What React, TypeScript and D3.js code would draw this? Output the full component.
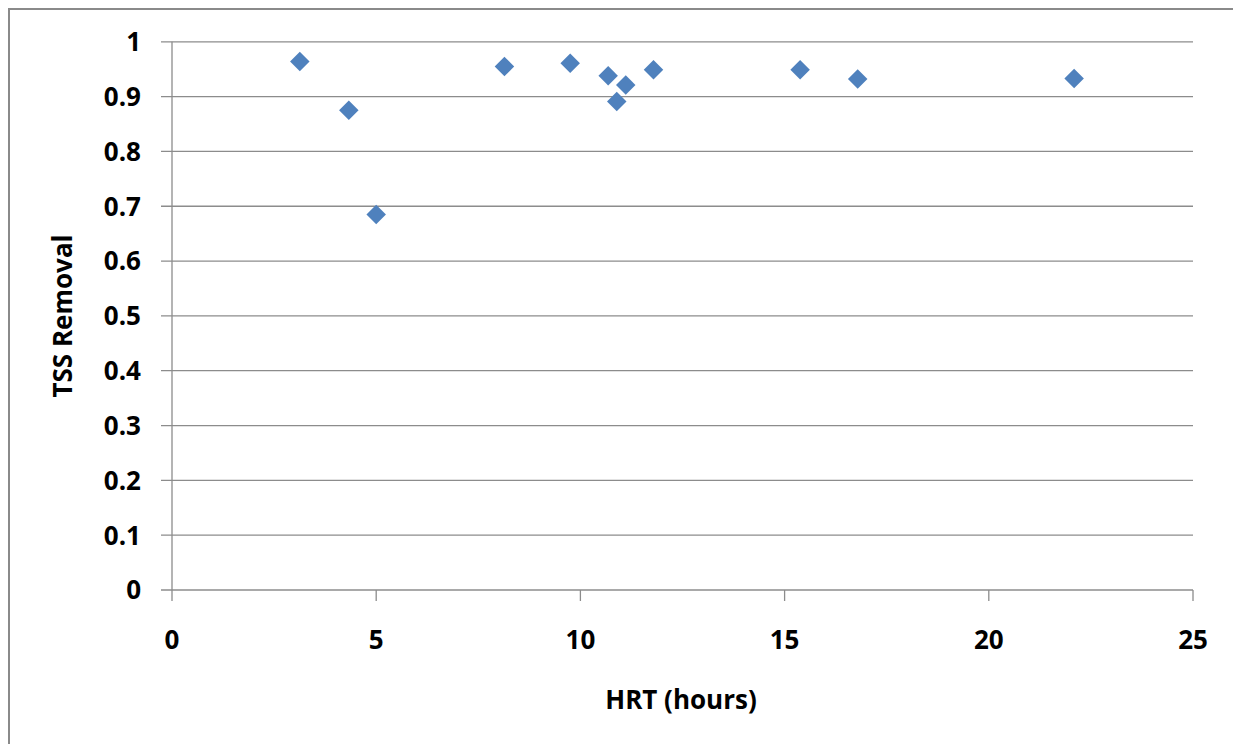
import React from "react";
import * as d3 from "d3";

const hrtHours: number[] = [3.13, 4.33, 5.0, 8.14, 9.75, 10.68, 11.11, 10.89, 11.79, 15.38, 16.79, 22.09];
const tssRemoval: number[] = [0.964, 0.875, 0.685, 0.955, 0.961, 0.938, 0.921, 0.891, 0.949, 0.949, 0.932, 0.933];
const xTicks: number[] = [0, 5, 10, 15, 20, 25];
const yTicks: number[] = [0, 0.1, 0.2, 0.3, 0.4, 0.5, 0.6, 0.7, 0.8, 0.9, 1];
const xTitle = "HRT (hours)";
const yTitle = "TSS Removal";

const W = 1233;
const H = 744;
const FONT = "'Open Sans', 'Liberation Sans', sans-serif";

export default function App() {
  const x = d3.scaleLinear().domain([0, 25]).range([172, 1193]);
  const y = d3.scaleLinear().domain([0, 1]).range([590, 41.8]);
  const diamond = d3.symbol().type(d3.symbolSquare).size(190)();
  const grid = "#8c8c8c";

  return (
    <svg
      width={W}
      height={H}
      style={{ position: "absolute", left: 0, top: 0, background: "#fff" }}
    >
      <rect x={9} y={9} width={W + 20} height={H + 20} fill="#fff" stroke="#8a8a8a" strokeWidth={2} />
      {yTicks.map((t) => (
        <g key={"y" + t}>
          <line x1={161} x2={1193} y1={y(t)} y2={y(t)} stroke={grid} strokeWidth={1.3} />
          <text
            x={141}
            y={y(t)}
            dy="0.36em"
            textAnchor="end"
            fontFamily={FONT}
            fontWeight={700}
            fontSize={26}
            fill="#000"
          >
            {d3.format("")(+t.toFixed(1))}
          </text>
        </g>
      ))}
      <line x1={x(0)} x2={x(0)} y1={y(1)} y2={y(0)} stroke={grid} strokeWidth={1.3} />
      {xTicks.map((t) => (
        <g key={"x" + t}>
          <line x1={x(t)} x2={x(t)} y1={y(0)} y2={y(0) + 11} stroke={grid} strokeWidth={1.3} />
          <text
            x={x(t)}
            y={649}
            textAnchor="middle"
            fontFamily={FONT}
            fontWeight={700}
            fontSize={26}
            fill="#000"
          >
            {t}
          </text>
        </g>
      ))}
      {hrtHours.map((h, i) => (
        <path
          key={"p" + i}
          d={diamond || ""}
          transform={`translate(${x(h)},${y(tssRemoval[i])}) rotate(45)`}
          fill="#4f81bd"
        />
      ))}
      <text
        x={681}
        y={709}
        textAnchor="middle"
        fontFamily={FONT}
        fontWeight={700}
        fontSize={26}
        fill="#000"
      >
        {xTitle}
      </text>
      <text
        transform={`translate(72,316) rotate(-90)`}
        textAnchor="middle"
        fontFamily={FONT}
        fontWeight={700}
        fontSize={26}
        fill="#000"
      >
        {yTitle}
      </text>
    </svg>
  );
}
